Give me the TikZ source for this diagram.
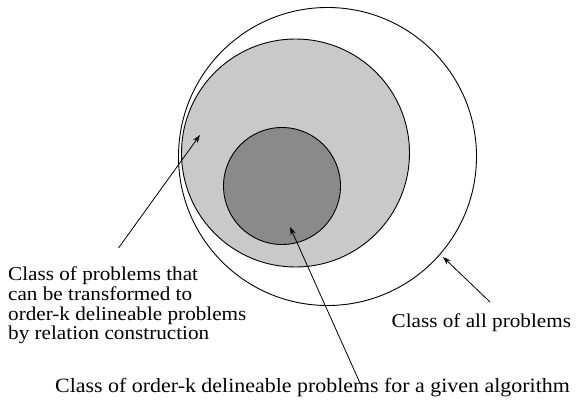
\documentclass[tikz,border=0pt]{standalone}
\usepackage{fontspec}
\setmainfont{Liberation Serif}[FakeStretch=1.08]
\usetikzlibrary{arrows.meta}
\begin{document}
\begin{tikzpicture}[x=1pt,y=-1pt,
  lbl/.style={font=\fontsize{19.6}{19.7}\selectfont, inner sep=0pt, anchor=base west},
  ring/.style={draw, line width=0.9pt},
  pointer/.style={-{Stealth[length=8pt,width=5.5pt]}, line width=0.8pt}]
\useasboundingbox (0,0) rectangle (578,411);
% circles
\draw[ring] (327.5,156.5) circle[radius=149pt];
\filldraw[ring, fill=black!21] (295.5,153) circle[radius=114pt];
\filldraw[ring, fill=black!46] (282,186) circle[radius=58.5pt];
% labels
\node[lbl] (ta) at (8,281) {Class of problems that};
\node[lbl] (tb) at (8,301) {can be transformed to};
\node[lbl] (tc) at (8,320.5) {order-k delineable problems};
\node[lbl] (td) at (8,340) {by relation construction};
\node[lbl] (all) at (391.5,327.7) {Class of all problems};
\node[lbl, font=\fontsize{20.3}{22}\selectfont] (ork) at (55,392) {Class of order-k delineable problems for a given algorithm};
% arrow ends
\coordinate (p1t) at (118.5,248);
\coordinate (p1h) at (200,135);
\coordinate (p2t) at (360,383);
\coordinate (p2h) at (290,227);
\coordinate (p3t) at (490,302);
\coordinate (p3h) at (443,257);
\draw[pointer] (p1t) -- (p1h);
\draw[pointer] (p2t) -- (p2h);
\draw[pointer] (p3t) -- (p3h);
\end{tikzpicture}
\end{document}
